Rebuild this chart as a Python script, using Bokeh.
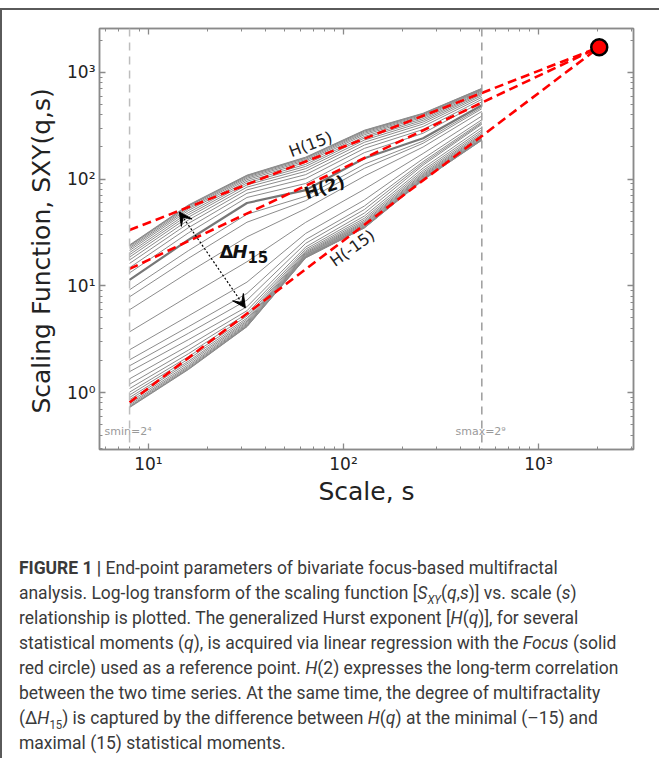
from bokeh.plotting import figure
from bokeh.models import (FixedTicker, LogAxis, Span, Arrow, VeeHead, Div, Range1d,
                          CustomJSTickFormatter)
from bokeh.layouts import column
from bokeh.core.properties import value
from bokeh.embed import file_html
from bokeh.resources import INLINE

# ---------------- data ----------------
scales = [8, 16, 32, 64, 128, 256, 512]
q_values = [15, 14, 13, 12, 11, 10, 9, 8, 7, 6, 5, 4, 3, 2,
            1.5, 1, 0.5, 0, -0.5, -1, -1.5,
            -2, -3, -4, -5, -6, -7, -8, -9, -10, -11, -12, -13, -14, -15]

# log10 of the scaling function S_XY(q, s) for every q, one list per scale
log10_S_s8 = [1.383, 1.378, 1.372, 1.360, 1.347, 1.331, 1.311, 1.291, 1.269, 1.242, 1.210, 1.170, 1.121, 1.056,
              0.963, 0.897, 0.776, 0.569, 0.401, 0.307, 0.251,
              0.196, 0.129, 0.078, 0.038, 0.004, -0.022, -0.046, -0.066, -0.086, -0.103, -0.116, -0.128, -0.135, -0.140]
log10_S_s16 = [1.757, 1.752, 1.746, 1.734, 1.721, 1.705, 1.685, 1.665, 1.643, 1.616, 1.584, 1.544, 1.495, 1.430,
               1.329, 1.257, 1.125, 0.901, 0.718, 0.616, 0.555,
               0.495, 0.439, 0.397, 0.363, 0.335, 0.313, 0.293, 0.277, 0.260, 0.246, 0.235, 0.225, 0.219, 0.215]
log10_S_s32 = [2.037, 2.033, 2.028, 2.019, 2.008, 1.995, 1.980, 1.964, 1.946, 1.925, 1.899, 1.867, 1.828, 1.776,
               1.671, 1.596, 1.459, 1.226, 1.035, 0.929, 0.866,
               0.804, 0.767, 0.739, 0.716, 0.697, 0.682, 0.669, 0.658, 0.647, 0.638, 0.630, 0.624, 0.620, 0.617]
log10_S_s64 = [2.206, 2.201, 2.195, 2.184, 2.172, 2.157, 2.138, 2.119, 2.098, 2.073, 2.042, 2.005, 1.959, 1.897,
               1.839, 1.798, 1.723, 1.595, 1.491, 1.433, 1.398,
               1.364, 1.344, 1.328, 1.316, 1.306, 1.298, 1.291, 1.284, 1.278, 1.273, 1.269, 1.266, 1.264, 1.262]
log10_S_s128 = [2.458, 2.454, 2.449, 2.440, 2.429, 2.416, 2.400, 2.385, 2.366, 2.345, 2.319, 2.288, 2.248, 2.196,
                2.140, 2.101, 2.028, 1.905, 1.804, 1.748, 1.715,
                1.682, 1.654, 1.633, 1.616, 1.602, 1.591, 1.581, 1.573, 1.564, 1.557, 1.552, 1.547, 1.544, 1.542]
log10_S_s256 = [2.617, 2.613, 2.609, 2.601, 2.591, 2.580, 2.566, 2.551, 2.535, 2.516, 2.493, 2.465, 2.430, 2.383,
                2.356, 2.336, 2.301, 2.240, 2.191, 2.164, 2.147,
                2.131, 2.103, 2.082, 2.065, 2.051, 2.040, 2.030, 2.022, 2.013, 2.006, 2.001, 1.996, 1.993, 1.991]
log10_S_s512 = [2.850, 2.848, 2.844, 2.839, 2.833, 2.825, 2.815, 2.806, 2.795, 2.782, 2.766, 2.747, 2.724, 2.692,
                2.673, 2.659, 2.634, 2.591, 2.556, 2.537, 2.525,
                2.514, 2.484, 2.461, 2.443, 2.428, 2.416, 2.406, 2.397, 2.388, 2.380, 2.374, 2.369, 2.366, 2.364]

# regression lines through the Focus
focus_s = 2048
focus_S = 1720
fit_names = ["H(15)", "H(2)", "H(-15)"]
fit_start_s = 8
fit_start_S = [33.3, 14.4, 0.81]

smin, smax = 8, 512
x_major = [10, 100, 1000]
y_major = [1, 10, 100, 1000]
x_minor = [6, 7, 8, 9, 20, 30, 40, 50, 60, 70, 80, 90,
           200, 300, 400, 500, 600, 700, 800, 900, 2000, 3000]
y_minor = [0.3, 0.4, 0.5, 0.6, 0.7, 0.8, 0.9, 2, 3, 4, 5, 6, 7, 8, 9,
           20, 30, 40, 50, 60, 70, 80, 90, 200, 300, 400, 500, 600, 700, 800, 900, 2000]

# ---------------- figure ----------------
FONT = "DejaVu Sans"
AX = "#8a8a8a"

p = figure(width=649, height=513, x_axis_type="log", y_axis_type="log",
           x_range=Range1d(5.61, 3069), y_range=Range1d(0.293, 2576),
           output_backend="svg", toolbar_location=None,
           min_border_left=97, min_border_top=18, min_border_right=18, min_border_bottom=74)
p.grid.visible = False
p.outline_line_color = AX
p.outline_line_width = 1.5
p.background_fill_color = "white"
p.border_fill_color = "white"
xax = p.xaxis[0]
yax = p.yaxis[0]

cols = [log10_S_s8, log10_S_s16, log10_S_s32, log10_S_s64, log10_S_s128, log10_S_s256, log10_S_s512]
xs, ys = [], []
for i, q in enumerate(q_values):
    if q == 2:
        continue
    xs.append(scales)
    ys.append([10 ** c[i] for c in cols])
p.multi_line(xs=xs, ys=ys, line_color="#8c8c8c", line_width=1)
i2 = q_values.index(2)
p.line(scales, [10 ** c[i2] for c in cols], line_color="#777777", line_width=2.2)

# vertical limits
p.add_layout(Span(location=smin, dimension="height", line_color="#bdbdbd",
                  line_dash="8 6", line_width=1.5))
p.add_layout(Span(location=smax, dimension="height", line_color="#9c9c9c",
                  line_dash="8 6", line_width=1.5))

# regression lines
for s0 in fit_start_S:
    p.line([fit_start_s, focus_s], [s0, focus_S], line_color="#ff0000",
           line_width=2.6, line_dash="9 5")
p.scatter([focus_s], [focus_S], size=16, fill_color="#ff0000",
          line_color="black", line_width=2.5)

# axes
fmt = CustomJSTickFormatter(code="""
const sup = {'-1':'\u207b\u00b9','0':'\u2070','1':'\u00b9','2':'\u00b2','3':'\u00b3','4':'\u2074'};
const e = Math.round(Math.log10(tick));
return '10' + sup[String(e)];
""")

def style_axis(ax, ticker, show_labels):
    ax.ticker = ticker
    ax.axis_line_color = AX
    ax.axis_line_width = 1.5
    ax.major_tick_line_color = AX
    ax.minor_tick_line_color = AX
    ax.major_tick_line_width = 1.3
    ax.minor_tick_line_width = 1
    ax.major_tick_in = 6
    ax.major_tick_out = 0
    ax.minor_tick_in = 3
    ax.minor_tick_out = 0
    if show_labels:
        ax.formatter = fmt
        ax.major_label_text_font = FONT
        ax.major_label_text_font_size = "17px"
        ax.major_label_text_color = "#222222"
        ax.major_label_standoff = 4
    else:
        ax.major_label_text_font_size = "0px"
        ax.major_label_text_alpha = 0

style_axis(xax, FixedTicker(ticks=x_major, minor_ticks=x_minor), True)
style_axis(yax, FixedTicker(ticks=y_major, minor_ticks=y_minor), True)
top = LogAxis()
right = LogAxis()
style_axis(top, FixedTicker(ticks=x_major, minor_ticks=x_minor), False)
style_axis(right, FixedTicker(ticks=y_major, minor_ticks=y_minor), False)
p.add_layout(top, "above")
p.add_layout(right, "right")

xax.axis_label = "Scale, s"
yax.axis_label = "Scaling Function, SXY(q,s)\u00a0\u00a0\u00a0"
for ax in (xax, yax):
    ax.axis_label_text_font = FONT
    ax.axis_label_text_font_size = "25px"
    ax.axis_label_text_font_style = "normal"
    ax.axis_label_text_color = "#222222"
xax.axis_label_standoff = 0
yax.axis_label_standoff = 8

# annotations
p.text(x=[67.8], y=[212], text=["H(15)"], angle=0.36, text_font=value(FONT),
       text_font_size="16px", text_color="#222222", text_align="center", text_baseline="middle")
p.text(x=[80], y=[84], text=["H(2)"], angle=0.32, text_font=value(FONT),
       text_font_size="17px", text_font_style="bold", text_color="#111111",
       text_align="center", text_baseline="middle")
p.text(x=[111], y=[22.6], text=["H(-15)"], angle=0.62, text_font=value(FONT),
       text_font_size="16px", text_color="#222222", text_align="center", text_baseline="middle")
p.text(x=[23.1], y=[20.8], text=["\u0394"], text_font=value(FONT), text_font_size="18px",
       text_font_style="bold", text_color="#111111", text_baseline="middle")
p.text(x=[23.1], y=[20.8], text=["H"], x_offset=13, text_font=value(FONT), text_font_size="18px",
       text_font_style="bold italic", text_color="#111111", text_baseline="middle")
p.text(x=[23.1], y=[20.8], text=["15"], x_offset=28, y_offset=5, text_font=value(FONT),
       text_font_size="15px", text_font_style="bold", text_color="#111111", text_baseline="middle")

p.add_layout(Arrow(start=VeeHead(size=13, fill_color="black", line_color="black"),
                   end=VeeHead(size=13, fill_color="black", line_color="black"),
                   x_start=14.4, y_start=49.2, x_end=31.4, y_end=6.22,
                   line_color="black", line_width=1.2, line_dash="2 2"))

p.text(x=[5.95], y=[0.432], text=["smin=2\u2074"], text_font=value(FONT), text_font_size="11px",
       text_color="#9a9a9a", text_baseline="middle")
p.text(x=[375], y=[0.432], text=["smax=2\u2079"], text_font=value(FONT), text_font_size="11px",
       text_color="#9a9a9a", text_baseline="middle")

# ---------------- caption ----------------
SUB = "<sub style='font-size:65%; line-height:0'>"
caption = (
    "<div style=\"padding:27px 0 0 13px; font-family:Roboto,sans-serif; font-size:19px;"
    " line-height:25px; color:#3a3a3a; white-space:nowrap; transform:scaleX(0.92);"
    " transform-origin:0 0;\">"
    "<b>FIGURE 1 |</b> End-point parameters of bivariate focus-based multifractal<br>"
    "analysis. Log-log transform of the scaling function [<i>S" + SUB + "XY</sub></i>(<i>q</i>,<i>s</i>)] vs. scale (<i>s</i>)<br>"
    "relationship is plotted. The generalized Hurst exponent [<i>H</i>(<i>q</i>)], for several<br>"
    "statistical moments (<i>q</i>), is acquired via linear regression with the <i>Focus</i> (solid<br>"
    "red circle) used as a reference point. <i>H</i>(2) expresses the long-term correlation<br>"
    "between the two time series. At the same time, the degree of multifractality<br>"
    "(\u0394<i>H</i>" + SUB + "15</sub>) is captured by the difference between <i>H</i>(<i>q</i>) at the minimal (\u201315) and<br>"
    "maximal (15) statistical moments."
    "</div>"
)
div = Div(text=caption, width=649, height=235)

layout = column(p, div, styles={"border-top": "2px solid #5a5a5a",
                                "border-left": "2px solid #5a5a5a",
                                "margin-top": "8px"})

open("out.html", "w").write(file_html(layout, INLINE))
